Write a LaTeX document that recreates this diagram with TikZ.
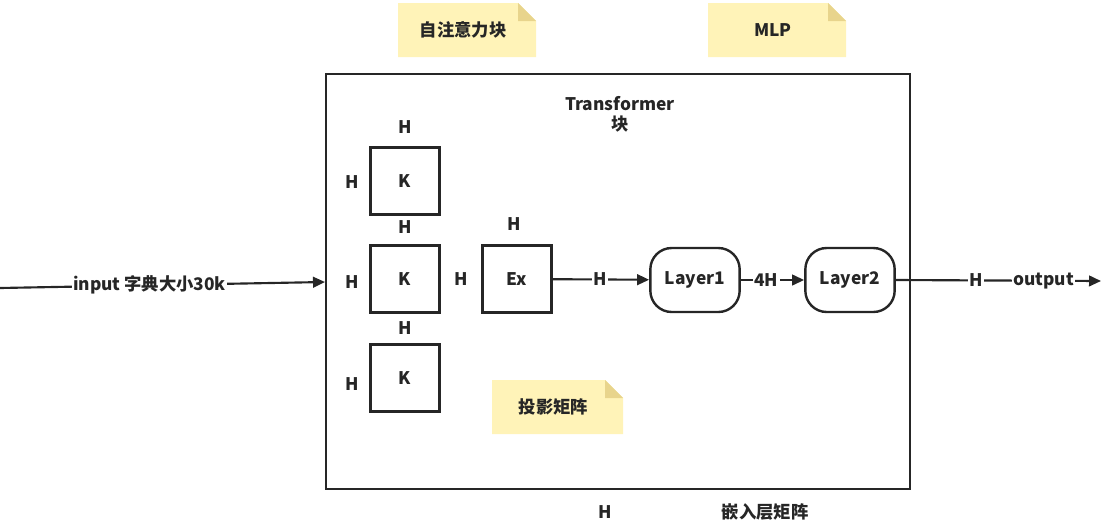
\documentclass[tikz,border=0pt]{standalone}
\usepackage{fontspec}
\setmainfont{Noto Sans CJK SC}
\usetikzlibrary{positioning,arrows.meta}
\definecolor{notefill}{HTML}{FFF3B8}
\definecolor{notefold}{HTML}{E8D48C}
\definecolor{ink}{HTML}{262626}
\tikzset{
  lbl/.style={font=\fontsize{13pt}{15pt}\selectfont\bfseries, text=ink, inner sep=1pt},
  sq/.style={draw=ink, line width=1.8pt, minimum width=52pt, minimum height=50pt, lbl},
  layer/.style={draw=ink, line width=1.8pt, rounded corners=16pt, minimum width=67pt, minimum height=48pt, lbl},
  wire/.style={draw=ink, line width=1.6pt},
  arr/.style={wire, -{Triangle[length=9pt,width=8pt]}},
  onwire/.style={lbl, fill=white, inner sep=1pt}
}
\begin{document}
\begin{tikzpicture}[x=0.75pt, y=-0.75pt]
\useasboundingbox (0,0) rectangle (1105,525);
% notes
\foreach \x/\y/\w/\txt in {398/3/138/自注意力块, 708/3/138/MLP, 492/380/131/投影矩阵}{
  \fill[notefill] (\x,\y) -- ++(\w-18,0) -- ++(18,18) -- ++(0,36) -- ++(-\w,0) -- cycle;
  \fill[notefold] (\x+\w-18,\y) -- ++(0,18) -- ++(18,0) -- cycle;
  \node[lbl] at (\x+\w/2-4,\y+27) {\txt};
}
% transformer block
\draw[ink, line width=2pt] (326,74) rectangle (910,489);
\node[lbl, align=center] (title) at (620,114) {Transformer\\块};
% K boxes
\node[sq] (k1) at (405,181) {K};
\node[sq] (k2) at (405,279) {K};
\node[sq] (k3) at (405,378) {K};
\node[lbl] (k1t) at (405,127) {H};
\node[lbl] (k2t) at (405,227) {H};
\node[lbl] (k3t) at (405,328) {H};
\node[lbl] (k1l) at (352,182) {H};
\node[lbl] (k2l) at (352,282) {H};
\node[lbl] (k3l) at (352,384) {H};
% projection
\node[sq] (ex) at (517,279) {Ex};
\node[lbl] (ext) at (514,224) {H};
\node[lbl] (exl) at (461,279) {H};
% mlp
\node[layer] (l1) at (695,280) {Layer1};
\node[layer] (l2) at (850,280) {Layer2};
% outer ends
\coordinate (in) at (0,288);
\coordinate (inend) at (325,282);
\coordinate (out) at (1101,281);
\draw[arr] (in) -- node[onwire, pos=0.46] {input 字典大小30k} (inend);
\draw[arr] (ex) -- node[onwire, pos=0.49] {H} (l1);
\draw[arr] (l1) -- node[onwire, pos=0.4] {4H} (l2);
\draw[arr] (l2.east) -- node[onwire, pos=0.39] {H} node[onwire, pos=0.72] {output} (out);
% bottom labels
\node[lbl] (hb) at (605,512) {H};
\node[lbl] (emb) at (765,512) {嵌入层矩阵};
\end{tikzpicture}
\end{document}
